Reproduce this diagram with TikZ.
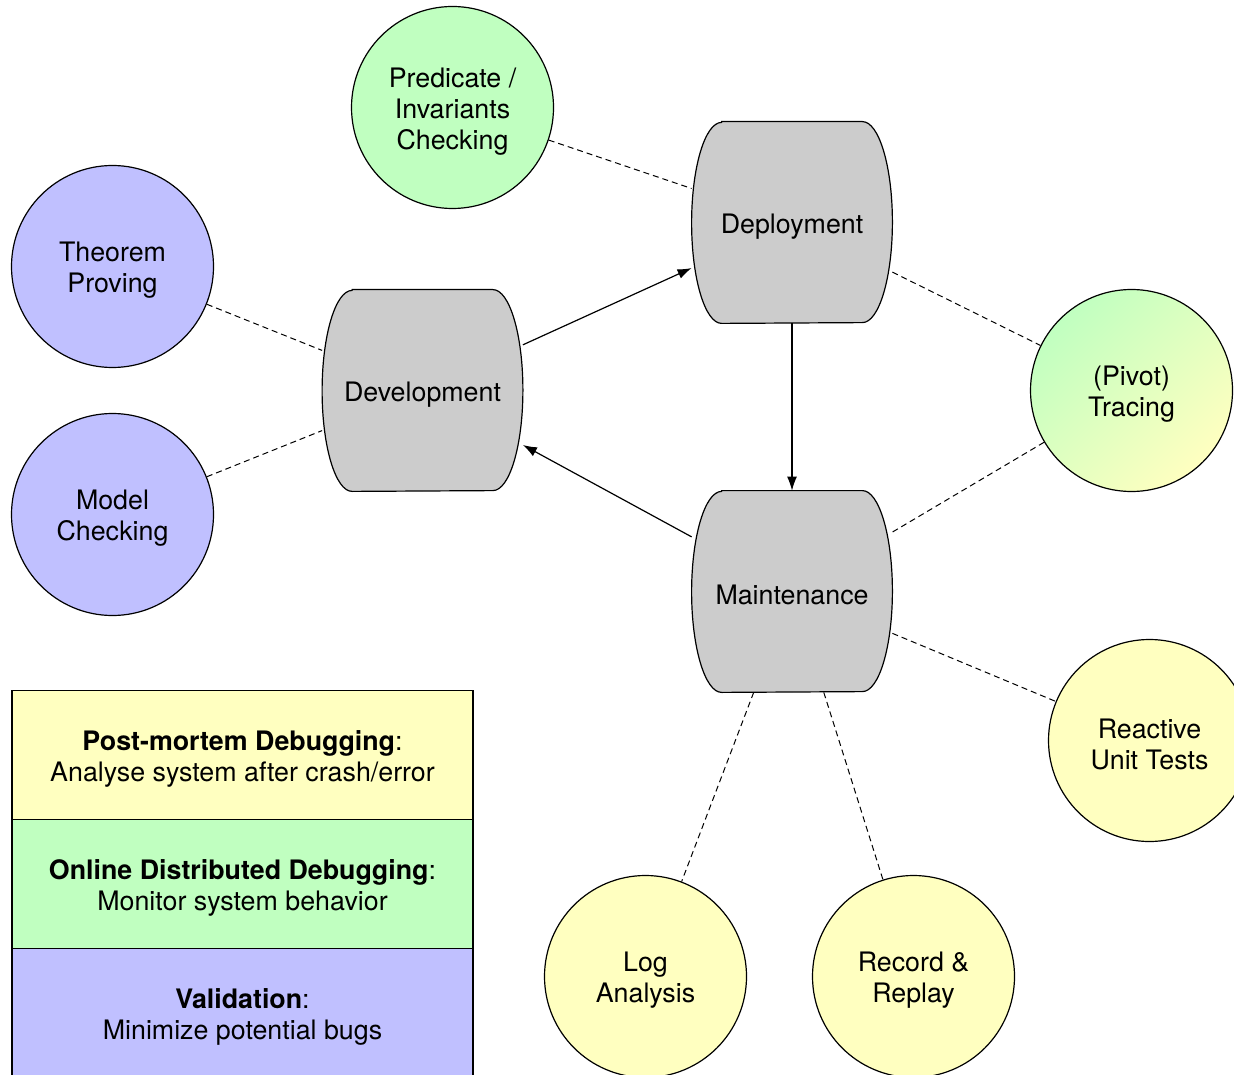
\documentclass[tikz,border=0pt]{standalone}
\usepackage{fontspec}
\setmainfont{TeX Gyre Heros}
\usetikzlibrary{positioning}
\usetikzlibrary{arrows.meta}
\usetikzlibrary{backgrounds}
\definecolor{postyellow}{RGB}{255,255,192}
\definecolor{onlinegreen}{RGB}{192,255,192}
\definecolor{validblue}{RGB}{192,192,255}
\definecolor{phasegray}{RGB}{204,204,204}
\newcommand{\lowline}{\rule{0pt}{13.5pt}}
\tikzset{>={Latex[length=7pt,width=5pt]}}
\tikzset{tech/.style={draw,circle,minimum size=101pt,inner sep=0pt,align=center,line width=0.6pt}}
\tikzset{phase/.style={rectangle,minimum width=100pt,minimum height=100.5pt,inner sep=0pt,execute at begin node={\lowline}}}
\tikzset{barrel/.style={draw,fill=phasegray,line width=0.6pt}}
\tikzset{link/.style={dash pattern=on 3pt off 2pt,line width=0.5pt}}
\tikzset{legend/.style={draw,rectangle,minimum width=230.5pt,minimum height=64.5pt,inner sep=0pt,align=center,line width=0.6pt}}

\begin{document}
\begin{tikzpicture}[x=0.5pt, y=-0.5pt, on grid, font=\fontsize{13.4}{15.5}\selectfont]
        \useasboundingbox (0,0) rectangle (1234,1074);

        % lifecycle phases
        \node[phase] (dep) at (792, 222.5) {Deployment};
        \node[phase, below=184.5pt of dep] (mnt) {Maintenance};
        \node[phase] (dev) at (422.5, 390.5) {Development};

        \begin{scope}[on background layer]
        \foreach \n in {dep,mnt,dev}
          \draw[barrel] ([xshift=15pt]\n.north west) -- ([xshift=-15pt]\n.north east)
            arc[start angle=90, end angle=-90, x radius=15pt, y radius=50.25pt]
            -- ([xshift=15pt]\n.south west)
            arc[start angle=270, end angle=90, x radius=15pt, y radius=50.25pt] -- cycle;
        \end{scope}

        % techniques
        \node[tech, fill=onlinegreen] (pred) at (452.5, 107.5) {\lowline Predicate /\\Invariants\\Checking};
        \node[tech, fill=validblue] (thm) at (112.5, 266.5) {\lowline Theorem\\Proving};
        \node[tech, fill=validblue, below=124pt of thm] (mc) {\lowline Model\\Checking};
        \node[tech, top color=onlinegreen, bottom color=postyellow, shading angle=45] (pivot) at (1131.5, 390.5) {\lowline (Pivot)\\Tracing};
        \node[tech, fill=postyellow] (rut) at (1149.5, 740.5) {\lowline Reactive\\Unit Tests};
        \node[tech, fill=postyellow] (log) at (645.5, 976.5) {\lowline Log\\Analysis};
        \node[tech, fill=postyellow, right=134pt of log] (rr) {\lowline Record \&\\Replay};

        % legend
        \node[legend, fill=postyellow] (leg1) at (242.5, 755) {\lowline\textbf{Post-mortem Debugging}:\\Analyse system after crash/error};
        \node[legend, fill=onlinegreen, below=64.5pt of leg1] (leg2) {\lowline\textbf{Online Distributed Debugging}:\\Monitor system behavior};
        \node[legend, fill=validblue, below=64.5pt of leg2] (leg3) {\lowline\textbf{Validation}:\\Minimize potential bugs};

        \draw [->, line width=0.6pt] (dev) -- (dep);
        \draw [->, line width=0.6pt] (dep) -- (mnt);
        \draw [->, line width=0.6pt] (mnt) -- (dev);

        \draw [link] (pred) -- (dep);
        \draw [link] (dep) -- (pivot);
        \draw [link] (thm) -- (dev);
        \draw [link] (mc) -- (dev);
        \draw [link] (pivot) -- (mnt);
        \draw [link] (mnt) -- (rut);
        \draw [link] (mnt) -- (log);
        \draw [link] (mnt) -- (rr);
    \end{tikzpicture}
\end{document}
